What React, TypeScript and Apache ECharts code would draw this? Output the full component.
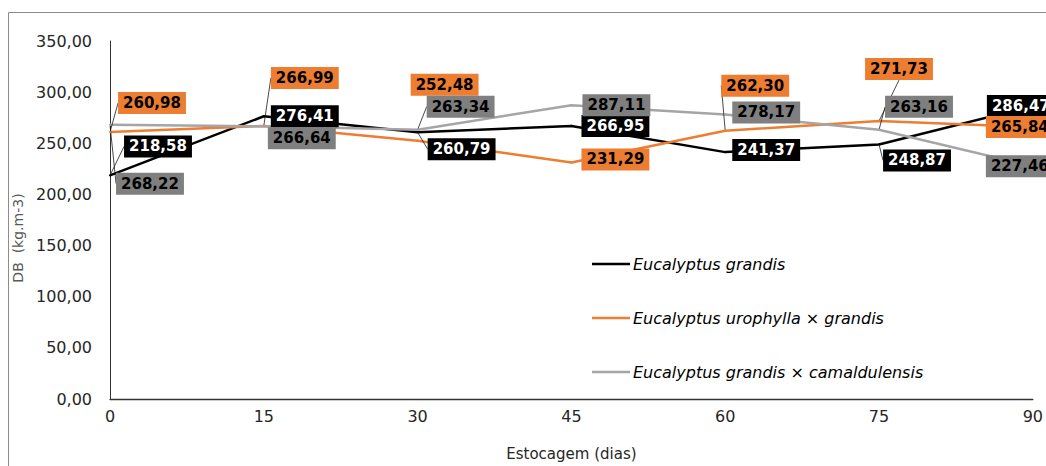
import React, { useEffect, useRef } from "react";
import * as echarts from "echarts";

// Storage time (days) and wood basic density (kg m-3) per clone
const days = [0, 15, 30, 45, 60, 75, 90];
const grandis = [218.58, 276.41, 260.79, 266.95, 241.37, 248.87, 286.47];
const urograndis = [260.98, 266.99, 252.48, 231.29, 262.3, 271.73, 265.84];
const grancam = [268.22, 266.64, 263.34, 287.11, 278.17, 263.16, 227.46];

const seriesNames = [
  "Eucalyptus grandis",
  "Eucalyptus urophylla × grandis",
  "Eucalyptus grandis × camaldulensis",
];

// Label box displacement from each point (px) and whether a leader line is drawn
const grandisOffsets = [[48, -29], [41, 0], [44, 17], [44, 0], [41, -2], [38, 16], [-12, 0]];
const uroOffsets = [[42, -29], [41, -48], [27, -56], [44, -3], [30, -45], [20, -52], [-13, 0]];
const camOffsets = [[40, 59], [38, 12], [43, -23], [45, 0], [41, -2], [40, -23], [-13, 0]];
const grandisLeaders = [true, false, true, false, false, true, false];
const uroLeaders = [true, true, false, false, true, true, false];
const camLeaders = [true, false, true, false, false, true, false];

const FONT = "DejaVu Sans";
const fmt = (v: number) => v.toFixed(2).replace(".", ",");

function buildSeries(
  name: string,
  values: number[],
  color: string,
  labelBg: string,
  labelColor: string,
  offsets: number[][],
  leaders: boolean[]
) {
  return {
    name,
    type: "line",
    symbol: "circle",
    symbolSize: 2,
    showSymbol: true,
    lineStyle: { color, width: 2.5 },
    itemStyle: { color },
    data: values.map((v, i) => ({
      value: [days[i], v],
      labelLine: { show: leaders[i] },
    })),
    label: {
      show: true,
      position: "inside",
      formatter: (p: any) => fmt(p.value[1]),
      fontFamily: FONT,
      fontSize: 15,
      fontWeight: "bold",
      color: labelColor,
      backgroundColor: labelBg,
      padding: [4, 5, 3, 5],
    },
    labelLine: {
      show: false,
      lineStyle: { color: "#1a1a1a", width: 0.8 },
    },
    labelLayout: (p: any) => ({
      dx: offsets[p.dataIndex][0],
      dy: offsets[p.dataIndex][1],
    }),
  };
}

export default function App() {
  const ref = useRef<HTMLDivElement>(null);

  useEffect(() => {
    if (!ref.current) return;
    const chart = echarts.init(ref.current, undefined, { renderer: "svg" });
    chart.setOption({
      animation: false,
      backgroundColor: "#ffffff",
      textStyle: { fontFamily: FONT },
      graphic: [
        {
          type: "rect",
          z: -10,
          shape: { x: 8.5, y: 12.5, width: 1100, height: 500 },
          style: { fill: "none", stroke: "#8c8c8c", lineWidth: 1 },
        },
      ],
      grid: { left: 110, right: 11, top: 41, bottom: 57 },
      legend: {
        orient: "vertical",
        left: 592,
        top: 256,
        padding: 0,
        icon: "rect",
        itemWidth: 38,
        itemHeight: 2.5,
        itemGap: 38,
        data: seriesNames,
        textStyle: {
          fontFamily: FONT,
          fontSize: 16,
          fontStyle: "italic",
          color: "#000",
          padding: [0, 0, 0, -2],
        },
      },
      xAxis: {
        type: "value",
        min: 0,
        max: 90,
        interval: 15,
        name: "Estocagem (dias)",
        nameLocation: "middle",
        nameGap: 47,
        nameTextStyle: { fontFamily: FONT, fontSize: 15, color: "#262626" },
        axisLine: { show: true, lineStyle: { color: "#333", width: 1.3 } },
        axisTick: { show: false },
        splitLine: { show: false },
        axisLabel: { fontFamily: FONT, fontSize: 16, color: "#262626", margin: 9 },
      },
      yAxis: {
        type: "value",
        min: 0,
        max: 350,
        interval: 50,
        name: "DB  (kg.m-3)",
        nameLocation: "middle",
        nameRotate: 90,
        nameGap: 85,
        nameTextStyle: {
          fontFamily: FONT,
          fontSize: 14,
          color: "#595959",
          padding: [0, 36, 0, 0],
        },
        axisLine: { show: true, lineStyle: { color: "#333", width: 1 } },
        axisTick: { show: false },
        splitLine: { show: false },
        axisLabel: {
          fontFamily: FONT,
          fontSize: 16,
          color: "#262626",
          margin: 18,
          formatter: (v: number) => fmt(v),
        },
      },
      series: [
        buildSeries(seriesNames[0], grandis, "#000000", "#000000", "#ffffff", grandisOffsets, grandisLeaders),
        buildSeries(seriesNames[1], urograndis, "#ED7D31", "#ED7D31", "#000000", uroOffsets, uroLeaders),
        buildSeries(seriesNames[2], grancam, "#A5A5A5", "#7F7F7F", "#000000", camOffsets, camLeaders),
      ],
    });
    return () => chart.dispose();
  }, []);

  return (
    <div
      ref={ref}
      style={{ position: "fixed", left: 0, top: 0, width: 1046, height: 466 }}
    />
  );
}
